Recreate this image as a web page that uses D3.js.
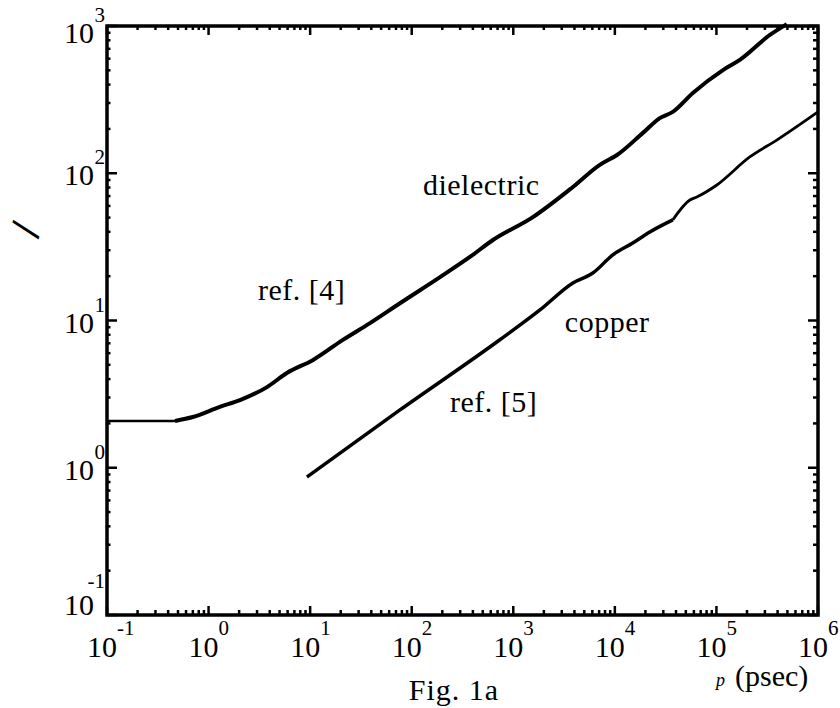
<!DOCTYPE html>
<html>
<head>
<meta charset="utf-8">
<script src="https://cdn.jsdelivr.net/npm/d3@7"></script>
<style>
  body { margin: 0; background: #fff; }
  svg { display: block; }
</style>
</head>
<body>
<svg id="chart" width="840" height="708"></svg>
<script>
// Data
const xDecades = [-1, 0, 1, 2, 3, 4, 5, 6];
const yDecades = [-1, 0, 1, 2, 3];

// dielectric, ref. [4]  : [pulse width (psec), value]
const dielectric = [
  [0.1, 2.08], [0.467, 2.08], [0.70, 2.21], [1.29, 2.59], [2.04, 2.88],
  [3.76, 3.53], [5.9, 4.40], [10.7, 5.40], [21, 7.38], [38.8, 9.6],
  [76.6, 13.1], [190, 19.7], [374, 27], [630, 35.2], [1560, 50.4],
  [3860, 80.7], [7110, 114], [10500, 133], [18900, 188], [27700, 237],
  [37200, 261], [58600, 351], [116000, 502], [170000, 588], [336000, 869],
  [493000, 1030]
];

// copper, ref. [5]
const copper = [
  [9.3, 0.865], [76.6, 2.47], [738, 7.4], [1830, 11.8], [3860, 18.0],
  [6070, 21.0], [9550, 27.9], [15000, 33.6], [22100, 39.9], [37200, 48.2],
  [54700, 65.8], [64100, 69.0], [101000, 83.2], [213000, 129], [393000, 168],
  [1000000, 261]
];

const annotations = [
  {text: "dielectric", x: 129, y: 71.2},
  {text: "ref. [4]", x: 3.06, y: 13.8},
  {text: "copper", x: 3220, y: 8.35},
  {text: "ref. [5]", x: 238, y: 2.39}
];

const FONT = "Liberation Serif";

// Layout
const svg = d3.select("#chart");
const margin = {top: 26, left: 107};
const plotW = 711, plotH = 589;

const x = d3.scaleLog().domain([1e-1, 1e6]).range([0, plotW]);
const y = d3.scaleLog().domain([1e-1, 1e3]).range([plotH, 0]);

const g = svg.append("g").attr("transform", `translate(${margin.left},${margin.top})`);

// minor ticks
const minorX = [];
xDecades.slice(0, -1).forEach(d => { for (let k = 2; k <= 9; k++) minorX.push(k * Math.pow(10, d)); });
const minorY = [];
yDecades.slice(0, -1).forEach(d => { for (let k = 2; k <= 9; k++) minorY.push(k * Math.pow(10, d)); });
const majorX = xDecades.map(d => Math.pow(10, d));
const majorY = yDecades.map(d => Math.pow(10, d));

const tickG = g.append("g").attr("stroke", "#000");

// bottom and top
tickG.selectAll(".xb").data(minorX.concat(majorX)).enter().append("line")
  .attr("x1", d => x(d)).attr("x2", d => x(d))
  .attr("y1", plotH).attr("y2", d => plotH - (majorX.includes(d) ? 9 : 5))
  .attr("stroke-width", 2.5);
tickG.selectAll(".xt").data(minorX.concat(majorX)).enter().append("line")
  .attr("x1", d => x(d)).attr("x2", d => x(d))
  .attr("y1", 0).attr("y2", d => (majorX.includes(d) ? 9 : 4))
  .attr("stroke-width", 2.5);
// left and right
tickG.selectAll(".yl").data(minorY.concat(majorY)).enter().append("line")
  .attr("y1", d => y(d)).attr("y2", d => y(d))
  .attr("x1", 0).attr("x2", d => (majorY.includes(d) ? 10 : 3.5))
  .attr("stroke-width", 2.5);
tickG.selectAll(".yr").data(minorY.concat(majorY)).enter().append("line")
  .attr("y1", d => y(d)).attr("y2", d => y(d))
  .attr("x1", plotW).attr("x2", d => plotW - (majorY.includes(d) ? 10 : 5))
  .attr("stroke-width", 2.5);

// frame
g.append("rect")
  .attr("x", 0).attr("y", 0).attr("width", plotW).attr("height", plotH)
  .attr("fill", "none").attr("stroke", "#000").attr("stroke-width", 3.5);

// x tick labels
const xl = g.append("g");
xDecades.forEach(d => {
  const px = x(Math.pow(10, d));
  xl.append("text").attr("x", px - 5).attr("y", plotH + 42)
    .attr("font-family", FONT).attr("font-size", 30)
    .attr("text-anchor", "middle").text("10");
  xl.append("text").attr("x", px + 10).attr("y", plotH + 20)
    .attr("font-family", FONT).attr("font-size", 21)
    .attr("text-anchor", "start").text(d);
});

// y tick labels (end labels are nudged inward, as in the original)
const yl = g.append("g");
yDecades.forEach((d, i) => {
  const py = y(Math.pow(10, d));
  const top = i === yDecades.length - 1, bottom = i === 0;
  const shift = top ? 5 : (bottom ? -12 : 0);
  yl.append("text").attr("x", -13).attr("y", py + 12 + shift)
    .attr("font-family", FONT).attr("font-size", 30)
    .attr("text-anchor", "end").text("10");
  yl.append("text").attr("x", -2).attr("y", py - 9 + shift - (bottom ? 6 : 0))
    .attr("font-family", FONT).attr("font-size", 21)
    .attr("text-anchor", "end").text(d);
});

// curves
const line = d3.line().x(d => x(d[0])).y(d => y(d[1])).curve(d3.curveMonotoneX);

g.append("path").datum(dielectric.slice(0, 2))
  .attr("d", line).attr("fill", "none").attr("stroke", "#000").attr("stroke-width", 2.5);
g.append("path").datum(dielectric.slice(1))
  .attr("d", line).attr("fill", "none").attr("stroke", "#000").attr("stroke-width", 4)
  .attr("stroke-linejoin", "round");

// copper: solid thick part, then the thinner noisy tail
const tailStart = copper.findIndex(d => d[0] >= 37200);
g.append("path").datum(copper.slice(0, tailStart + 1))
  .attr("d", line).attr("fill", "none").attr("stroke", "#000").attr("stroke-width", 3.5)
  .attr("stroke-linejoin", "round");
g.append("path").datum(copper.slice(tailStart))
  .attr("d", line).attr("fill", "none").attr("stroke", "#000").attr("stroke-width", 2.8)
  .attr("stroke-linejoin", "round");

// annotations
g.selectAll(".ann").data(annotations).enter().append("text")
  .attr("x", d => x(d.x)).attr("y", d => y(d.y))
  .attr("font-family", FONT).attr("font-size", 30)
  .attr("letter-spacing", 0.5)
  .text(d => d.text);

// axis titles
svg.append("text").attr("transform", "translate(27,230) rotate(-76)")
  .attr("text-anchor", "middle").attr("dy", "0.3em")
  .attr("font-family", FONT).attr("font-size", 44).attr("font-weight", "bold").text("/");

svg.append("text").attr("x", 454).attr("y", 700)
  .attr("text-anchor", "middle").attr("font-family", FONT).attr("font-size", 30)
  .attr("letter-spacing", 1)
  .text("Fig. 1a");

const xt = svg.append("text").attr("x", 716).attr("y", 686).attr("font-family", FONT);
xt.append("tspan").attr("font-size", 18).attr("font-style", "italic").text("p");
xt.append("tspan").attr("font-size", 30).attr("dx", 10).text("(psec)");
</script>
</body>
</html>
